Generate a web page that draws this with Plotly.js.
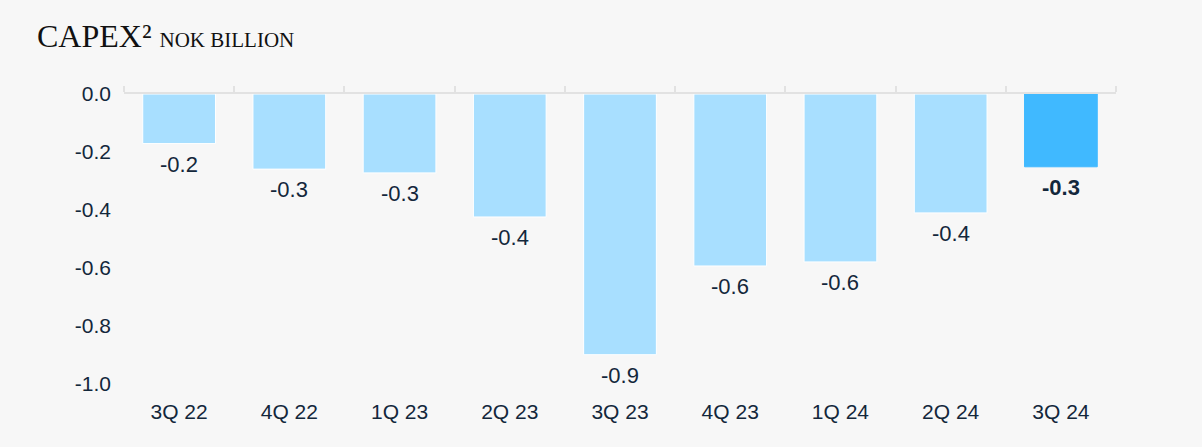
<!DOCTYPE html>
<html>
<head>
<meta charset="utf-8">
<script src="https://cdn.plot.ly/plotly-3.0.1.min.js"></script>
<style>
html,body{margin:0;padding:0;background:#f7f7f7;}
#chart{width:1202px;height:447px;}
</style>
</head>
<body>
<div id="chart"></div>
<script>
const categories = ['3Q 22','4Q 22','1Q 23','2Q 23','3Q 23','4Q 23','1Q 24','2Q 24','3Q 24'];
const capexValues = [-0.171, -0.259, -0.272, -0.424, -0.899, -0.593, -0.579, -0.41, -0.251];
const valueLabels = ['-0.2','-0.3','-0.3','-0.4','-0.9','-0.6','-0.6','-0.4','<b>-0.3</b>'];
const yTickVals = [0, -0.2, -0.4, -0.6, -0.8, -1.0];
const yTickText = ['0.0','-0.2','-0.4','-0.6','-0.8','-1.0'];

const light = '#a8dfff';
const highlight = '#40b9ff';
const barColors = categories.map((c,i)=> i === categories.length-1 ? highlight : light);
const lineColors = categories.map((c,i)=> i === categories.length-1 ? highlight : '#ffffff');

const textCol = '#13273b';
const sans = 'Liberation Sans, Arial, sans-serif';

const traces = [
  {
    type: 'bar',
    x: categories,
    y: capexValues,
    marker: {color: barColors, line: {color: lineColors, width: 1}},
    width: 0.66,
    hoverinfo: 'skip'
  },
  {
    type: 'scatter',
    mode: 'none',
    x: categories,
    y: capexValues,
    xaxis: 'x2',
    yaxis: 'y',
    hoverinfo: 'skip',
    showlegend: false
  }
];

const annotations = categories.map((c,i)=>({
  x: c, y: capexValues[i], xref: 'x', yref: 'y',
  text: valueLabels[i],
  showarrow: false,
  xanchor: 'center', yanchor: 'top',
  yshift: -6,
  font: {family: sans, size: 22, color: textCol}
}));

const layout = {
  width: 1202,
  height: 447,
  paper_bgcolor: '#f7f7f7',
  plot_bgcolor: '#f7f7f7',
  showlegend: false,
  margin: {l: 124, r: 86, t: 94, b: 63},
  title: {
    text: 'CAPEX² <span style="font-size:21px">NOK BILLION</span>',
    font: {family: 'Liberation Serif, Times New Roman, serif', size: 32, color: '#111111'},
    xref: 'container', yref: 'container',
    x: 37/1202, xanchor: 'left',
    y: 1 - 36/447, yanchor: 'middle'
  },
  annotations: annotations,
  xaxis: {
    type: 'category',
    showline: false,
    showgrid: false,
    zeroline: false,
    ticks: '',
    ticklabelstandoff: 13,
    tickfont: {family: sans, size: 21, color: textCol},
    fixedrange: true
  },
  xaxis2: {
    type: 'category',
    overlaying: 'x',
    side: 'top',
    matches: 'x',
    showline: true,
    linecolor: '#e2e2e2',
    linewidth: 2,
    ticks: 'outside',
    tickson: 'boundaries',
    ticklen: 6,
    tickwidth: 2,
    tickcolor: '#e2e2e2',
    showticklabels: false,
    showgrid: false,
    zeroline: false
  },
  yaxis: {
    range: [-1.0, 0],
    tickvals: yTickVals,
    ticktext: yTickText,
    showgrid: false,
    zeroline: false,
    showline: false,
    ticks: '',
    ticklabelstandoff: 12,
    tickfont: {family: sans, size: 21, color: textCol},
    fixedrange: true
  },
  bargap: 0.34
};

Plotly.newPlot('chart', traces, layout, {displayModeBar: false, staticPlot: true});
</script>
</body>
</html>
